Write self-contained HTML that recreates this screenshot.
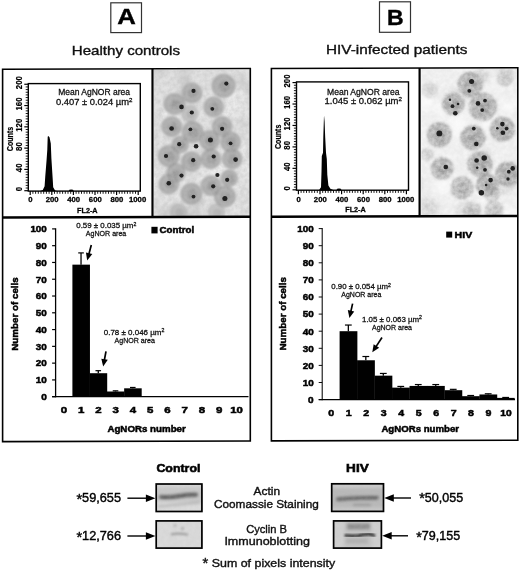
<!DOCTYPE html>
<html><head><meta charset="utf-8"><title>Figure</title>
<style>html,body{margin:0;padding:0;background:#fff;}svg{display:block;}text{font-family:"Liberation Sans",sans-serif;}</style></head>
<body>
<svg width="520" height="571" viewBox="0 0 520 571" font-family="Liberation Sans, sans-serif">
<defs>
<filter id="b1" x="-50%" y="-50%" width="200%" height="200%"><feGaussianBlur stdDeviation="1.5"/></filter>
<filter id="b2" x="-50%" y="-50%" width="200%" height="200%"><feGaussianBlur stdDeviation="0.7"/></filter>
<filter id="b3" x="-50%" y="-50%" width="200%" height="200%"><feGaussianBlur stdDeviation="1.2"/></filter>
<filter id="b5" x="-50%" y="-50%" width="200%" height="200%"><feGaussianBlur stdDeviation="1.5"/></filter>
<filter id="b4" x="-50%" y="-50%" width="200%" height="200%"><feGaussianBlur stdDeviation="2.5"/></filter>
<filter id="nz" x="0" y="0" width="100%" height="100%"><feTurbulence type="fractalNoise" baseFrequency="0.22" numOctaves="3" seed="4" result="t"/><feColorMatrix in="t" type="matrix" values="0 0 0 0 0.5  0 0 0 0 0.5  0 0 0 0 0.5  1.6 0 0 0 -0.45"/></filter>
<filter id="nz2" x="0" y="0" width="100%" height="100%"><feTurbulence type="fractalNoise" baseFrequency="0.22" numOctaves="3" seed="11" result="t"/><feColorMatrix in="t" type="matrix" values="0 0 0 0 1  0 0 0 0 1  0 0 0 0 1  1.6 0 0 0 -0.45"/></filter>
<clipPath id="cpA"><rect x="154" y="70.0" width="96" height="147"/></clipPath>
<clipPath id="cpB"><rect x="421.4" y="68.4" width="96" height="148.5"/></clipPath>
<clipPath id="cb1"><rect x="156" y="484" width="46.6" height="27.6"/></clipPath>
<clipPath id="cb2"><rect x="156" y="521" width="46.6" height="27"/></clipPath>
<clipPath id="cb3"><rect x="332" y="484" width="51.4" height="27.2"/></clipPath>
<clipPath id="cb4"><rect x="334" y="521" width="47.4" height="27"/></clipPath>
</defs>
<rect x="0" y="0" width="520" height="571" fill="#fff" />
<g opacity="0.999">
<rect x="110.8" y="2.8" width="30.7" height="29.8" fill="#fff" stroke="#333" stroke-width="1.2" />
<text x="126.5" y="24.4" font-size="22.6" font-weight="bold" text-anchor="middle" fill="#000" stroke="#000" stroke-width="0.4" textLength="18.6" lengthAdjust="spacingAndGlyphs" >A</text>
<rect x="379.5" y="1.8" width="31.0" height="30.5" fill="#fff" stroke="#333" stroke-width="1.2" />
<text x="395.3" y="24.7" font-size="21.4" font-weight="bold" text-anchor="middle" fill="#000" stroke="#000" stroke-width="0.4" textLength="16.6" lengthAdjust="spacingAndGlyphs" >B</text>
<text x="71.8" y="54.8" font-size="13.0" font-weight="normal" text-anchor="start" fill="#111" stroke="#111" stroke-width="0.36" textLength="108.2" lengthAdjust="spacingAndGlyphs" >Healthy controls</text>
<text x="326.0" y="53.8" font-size="13.0" font-weight="normal" text-anchor="start" fill="#111" stroke="#111" stroke-width="0.36" textLength="141.4" lengthAdjust="spacingAndGlyphs" >HIV-infected patients</text>
<g clip-path="url(#cpA)">
<rect x="140" y="62" width="115" height="160" fill="#e2e2e2" />
<g filter="url(#b4)">
<circle cx="210.4" cy="178.8" r="10.4" fill="#ffffff" opacity="0.45"/>
<circle cx="233.2" cy="183.9" r="6.0" fill="#ffffff" opacity="0.45"/>
<circle cx="239.6" cy="83.2" r="7.8" fill="#c4c4c4" opacity="0.45"/>
<circle cx="185.0" cy="81.5" r="6.0" fill="#c4c4c4" opacity="0.45"/>
<circle cx="187.9" cy="93.7" r="10.9" fill="#bdbdbd" opacity="0.45"/>
<circle cx="161.8" cy="187.2" r="5.1" fill="#bdbdbd" opacity="0.45"/>
<circle cx="158.3" cy="66.3" r="11.0" fill="#c4c4c4" opacity="0.45"/>
<circle cx="226.2" cy="211.9" r="5.3" fill="#c4c4c4" opacity="0.45"/>
<circle cx="175.4" cy="212.1" r="8.3" fill="#c4c4c4" opacity="0.45"/>
<circle cx="164.1" cy="213.2" r="5.6" fill="#bdbdbd" opacity="0.45"/>
<circle cx="176.4" cy="120.9" r="5.3" fill="#c4c4c4" opacity="0.45"/>
<circle cx="172.7" cy="116.4" r="10.5" fill="#ffffff" opacity="0.45"/>
<circle cx="207.6" cy="173.6" r="4.5" fill="#f4f4f4" opacity="0.45"/>
<circle cx="230.9" cy="139.1" r="6.5" fill="#bdbdbd" opacity="0.45"/>
<circle cx="194.6" cy="92.8" r="6.0" fill="#ffffff" opacity="0.45"/>
<circle cx="244.7" cy="120.4" r="7.2" fill="#bdbdbd" opacity="0.45"/>
<circle cx="183.4" cy="153.9" r="4.1" fill="#ffffff" opacity="0.45"/>
<circle cx="219.3" cy="160.8" r="11.6" fill="#ffffff" opacity="0.45"/>
<circle cx="224.4" cy="207.3" r="11.5" fill="#f4f4f4" opacity="0.45"/>
<circle cx="198.8" cy="201.7" r="6.0" fill="#bdbdbd" opacity="0.45"/>
<circle cx="156.3" cy="179.8" r="10.4" fill="#f4f4f4" opacity="0.45"/>
<circle cx="148.8" cy="209.8" r="4.7" fill="#f4f4f4" opacity="0.45"/>
<circle cx="198.9" cy="121.1" r="5.2" fill="#f4f4f4" opacity="0.45"/>
<circle cx="242.0" cy="148.9" r="6.5" fill="#f4f4f4" opacity="0.45"/>
<circle cx="177.1" cy="187.4" r="9.0" fill="#f4f4f4" opacity="0.45"/>
<circle cx="249.7" cy="90.6" r="4.4" fill="#bdbdbd" opacity="0.45"/>
<circle cx="148.3" cy="178.6" r="6.8" fill="#f4f4f4" opacity="0.45"/>
<circle cx="192.8" cy="130.1" r="4.4" fill="#ffffff" opacity="0.45"/>
<circle cx="229.2" cy="116.8" r="5.7" fill="#c4c4c4" opacity="0.45"/>
<circle cx="211.2" cy="185.8" r="4.9" fill="#bdbdbd" opacity="0.45"/>
<circle cx="184.2" cy="74.9" r="7.4" fill="#c4c4c4" opacity="0.45"/>
<circle cx="192.6" cy="217.9" r="10.8" fill="#bdbdbd" opacity="0.45"/>
<circle cx="245.8" cy="170.7" r="6.5" fill="#f4f4f4" opacity="0.45"/>
<circle cx="175.6" cy="127.4" r="5.2" fill="#bdbdbd" opacity="0.45"/>
<circle cx="231.3" cy="146.8" r="5.4" fill="#bdbdbd" opacity="0.45"/>
<circle cx="236.1" cy="93.4" r="7.9" fill="#f4f4f4" opacity="0.45"/>
<circle cx="151.6" cy="186.9" r="6.8" fill="#ffffff" opacity="0.45"/>
<circle cx="224.8" cy="121.2" r="9.6" fill="#f4f4f4" opacity="0.45"/>
<circle cx="232.7" cy="106.3" r="11.8" fill="#f4f4f4" opacity="0.45"/>
<circle cx="245.5" cy="117.7" r="5.4" fill="#ffffff" opacity="0.45"/>
</g>
<g filter="url(#b1)">
<circle cx="223.5" cy="85.8" r="11.6" fill="#a8a8a8" opacity="0.88"/>
<circle cx="192.1" cy="92.9" r="9.9" fill="#a8a8a8" opacity="0.88"/>
<circle cx="174.5" cy="104.1" r="10.6" fill="#a8a8a8" opacity="0.88"/>
<circle cx="213.7" cy="106.9" r="9.9" fill="#a8a8a8" opacity="0.88"/>
<circle cx="171.6" cy="126.5" r="9.9" fill="#a8a8a8" opacity="0.88"/>
<circle cx="192.7" cy="132.1" r="10.6" fill="#a8a8a8" opacity="0.88"/>
<circle cx="222.1" cy="126.5" r="9.9" fill="#a8a8a8" opacity="0.88"/>
<circle cx="209.5" cy="140.5" r="9.9" fill="#a8a8a8" opacity="0.88"/>
<circle cx="230.6" cy="141.9" r="9.9" fill="#a8a8a8" opacity="0.88"/>
<circle cx="180.1" cy="144.7" r="8.3" fill="#a8a8a8" opacity="0.88"/>
<circle cx="168.8" cy="156.0" r="10.6" fill="#a8a8a8" opacity="0.88"/>
<circle cx="191.3" cy="161.6" r="9.9" fill="#a8a8a8" opacity="0.88"/>
<circle cx="210.9" cy="158.8" r="9.9" fill="#a8a8a8" opacity="0.88"/>
<circle cx="232.0" cy="158.8" r="9.9" fill="#a8a8a8" opacity="0.88"/>
<circle cx="175.9" cy="172.8" r="9.3" fill="#a8a8a8" opacity="0.88"/>
<circle cx="168.8" cy="184.0" r="9.9" fill="#a8a8a8" opacity="0.88"/>
<circle cx="210.9" cy="185.4" r="9.9" fill="#a8a8a8" opacity="0.88"/>
<circle cx="191.3" cy="193.8" r="10.6" fill="#a8a8a8" opacity="0.88"/>
<circle cx="224.9" cy="196.6" r="10.6" fill="#a8a8a8" opacity="0.88"/>
<circle cx="229.2" cy="178.4" r="8.3" fill="#a8a8a8" opacity="0.88"/>
<circle cx="178.7" cy="212.1" r="8.3" fill="#a8a8a8" opacity="0.53"/>
<circle cx="216.5" cy="212.1" r="8.3" fill="#a8a8a8" opacity="0.53"/>
<circle cx="189.9" cy="113.9" r="8.3" fill="#a8a8a8" opacity="0.53"/>
</g>
<g filter="url(#b3)">
<circle cx="223.5" cy="85.8" r="10.7" fill="none" stroke="#7e7e7e" stroke-width="1.6" opacity="0.35"/>
<circle cx="224.3" cy="86.3" r="5.7" fill="#808080" opacity="0.42"/>
<circle cx="192.1" cy="92.9" r="9.1" fill="none" stroke="#7e7e7e" stroke-width="1.6" opacity="0.35"/>
<circle cx="192.9" cy="93.4" r="4.9" fill="#808080" opacity="0.42"/>
<circle cx="174.5" cy="104.1" r="9.7" fill="none" stroke="#7e7e7e" stroke-width="1.6" opacity="0.35"/>
<circle cx="175.3" cy="104.6" r="5.2" fill="#808080" opacity="0.42"/>
<circle cx="213.7" cy="106.9" r="9.1" fill="none" stroke="#7e7e7e" stroke-width="1.6" opacity="0.35"/>
<circle cx="214.5" cy="107.4" r="4.9" fill="#808080" opacity="0.42"/>
<circle cx="171.6" cy="126.5" r="9.1" fill="none" stroke="#7e7e7e" stroke-width="1.6" opacity="0.35"/>
<circle cx="172.4" cy="127.0" r="4.9" fill="#808080" opacity="0.42"/>
<circle cx="192.7" cy="132.1" r="9.7" fill="none" stroke="#7e7e7e" stroke-width="1.6" opacity="0.35"/>
<circle cx="193.5" cy="132.6" r="5.2" fill="#808080" opacity="0.42"/>
<circle cx="222.1" cy="126.5" r="9.1" fill="none" stroke="#7e7e7e" stroke-width="1.6" opacity="0.35"/>
<circle cx="222.9" cy="127.0" r="4.9" fill="#808080" opacity="0.42"/>
<circle cx="209.5" cy="140.5" r="9.1" fill="none" stroke="#7e7e7e" stroke-width="1.6" opacity="0.35"/>
<circle cx="210.3" cy="141.0" r="4.9" fill="#808080" opacity="0.42"/>
<circle cx="230.6" cy="141.9" r="9.1" fill="none" stroke="#7e7e7e" stroke-width="1.6" opacity="0.35"/>
<circle cx="231.4" cy="142.4" r="4.9" fill="#808080" opacity="0.42"/>
<circle cx="180.1" cy="144.7" r="7.6" fill="none" stroke="#7e7e7e" stroke-width="1.6" opacity="0.35"/>
<circle cx="180.9" cy="145.2" r="4.1" fill="#808080" opacity="0.42"/>
<circle cx="168.8" cy="156.0" r="9.7" fill="none" stroke="#7e7e7e" stroke-width="1.6" opacity="0.35"/>
<circle cx="169.6" cy="156.5" r="5.2" fill="#808080" opacity="0.42"/>
<circle cx="191.3" cy="161.6" r="9.1" fill="none" stroke="#7e7e7e" stroke-width="1.6" opacity="0.35"/>
<circle cx="192.1" cy="162.1" r="4.9" fill="#808080" opacity="0.42"/>
<circle cx="210.9" cy="158.8" r="9.1" fill="none" stroke="#7e7e7e" stroke-width="1.6" opacity="0.35"/>
<circle cx="211.7" cy="159.3" r="4.9" fill="#808080" opacity="0.42"/>
<circle cx="232.0" cy="158.8" r="9.1" fill="none" stroke="#7e7e7e" stroke-width="1.6" opacity="0.35"/>
<circle cx="232.8" cy="159.3" r="4.9" fill="#808080" opacity="0.42"/>
<circle cx="175.9" cy="172.8" r="8.5" fill="none" stroke="#7e7e7e" stroke-width="1.6" opacity="0.35"/>
<circle cx="176.7" cy="173.3" r="4.6" fill="#808080" opacity="0.42"/>
<circle cx="168.8" cy="184.0" r="9.1" fill="none" stroke="#7e7e7e" stroke-width="1.6" opacity="0.35"/>
<circle cx="169.6" cy="184.5" r="4.9" fill="#808080" opacity="0.42"/>
<circle cx="210.9" cy="185.4" r="9.1" fill="none" stroke="#7e7e7e" stroke-width="1.6" opacity="0.35"/>
<circle cx="211.7" cy="185.9" r="4.9" fill="#808080" opacity="0.42"/>
<circle cx="191.3" cy="193.8" r="9.7" fill="none" stroke="#7e7e7e" stroke-width="1.6" opacity="0.35"/>
<circle cx="192.1" cy="194.3" r="5.2" fill="#808080" opacity="0.42"/>
<circle cx="224.9" cy="196.6" r="9.7" fill="none" stroke="#7e7e7e" stroke-width="1.6" opacity="0.35"/>
<circle cx="225.7" cy="197.1" r="5.2" fill="#808080" opacity="0.42"/>
<circle cx="229.2" cy="178.4" r="7.6" fill="none" stroke="#7e7e7e" stroke-width="1.6" opacity="0.35"/>
<circle cx="230.0" cy="178.9" r="4.1" fill="#808080" opacity="0.42"/>
<circle cx="178.7" cy="212.1" r="7.6" fill="none" stroke="#7e7e7e" stroke-width="1.6" opacity="0.21"/>
<circle cx="179.5" cy="212.6" r="4.1" fill="#808080" opacity="0.25"/>
<circle cx="216.5" cy="212.1" r="7.6" fill="none" stroke="#7e7e7e" stroke-width="1.6" opacity="0.21"/>
<circle cx="217.3" cy="212.6" r="4.1" fill="#808080" opacity="0.25"/>
<circle cx="189.9" cy="113.9" r="7.6" fill="none" stroke="#7e7e7e" stroke-width="1.6" opacity="0.21"/>
<circle cx="190.7" cy="114.4" r="4.1" fill="#808080" opacity="0.25"/>
</g>
<rect x="140" y="62" width="115" height="160" filter="url(#nz)" opacity="0.5"/>
<g filter="url(#b2)">
<circle cx="226.3" cy="83.6" r="2.10" fill="#202020"/>
<circle cx="193.5" cy="90.9" r="2.10" fill="#202020"/>
<circle cx="181.5" cy="106.9" r="2.31" fill="#202020"/>
<circle cx="191.8" cy="112.5" r="2.10" fill="#202020"/>
<circle cx="212.3" cy="108.8" r="1.89" fill="#202020"/>
<circle cx="171.6" cy="128.5" r="2.31" fill="#202020"/>
<circle cx="190.4" cy="129.3" r="1.89" fill="#202020"/>
<circle cx="222.1" cy="128.8" r="2.10" fill="#202020"/>
<circle cx="210.4" cy="140.0" r="2.52" fill="#202020"/>
<circle cx="179.2" cy="144.2" r="2.10" fill="#202020"/>
<circle cx="196.1" cy="146.2" r="2.31" fill="#202020"/>
<circle cx="230.6" cy="143.3" r="1.89" fill="#202020"/>
<circle cx="166.0" cy="156.0" r="2.10" fill="#202020"/>
<circle cx="193.2" cy="160.2" r="2.10" fill="#202020"/>
<circle cx="213.7" cy="156.5" r="2.10" fill="#202020"/>
<circle cx="235.6" cy="159.6" r="2.31" fill="#202020"/>
<circle cx="181.5" cy="175.6" r="2.10" fill="#202020"/>
<circle cx="217.4" cy="175.0" r="2.10" fill="#202020"/>
<circle cx="227.2" cy="179.8" r="2.10" fill="#202020"/>
<circle cx="168.8" cy="183.2" r="2.31" fill="#202020"/>
<circle cx="213.2" cy="186.3" r="2.10" fill="#202020"/>
<circle cx="193.5" cy="196.6" r="1.89" fill="#202020"/>
<circle cx="224.9" cy="198.6" r="2.52" fill="#202020"/>
</g>
</g>
<g clip-path="url(#cpB)">
<rect x="405" y="62" width="115" height="160" fill="#ececec" />
<g filter="url(#b4)">
<circle cx="458.6" cy="122.7" r="5.1" fill="#ffffff" opacity="0.45"/>
<circle cx="445.5" cy="136.5" r="8.8" fill="#f4f4f4" opacity="0.45"/>
<circle cx="468.2" cy="159.7" r="4.3" fill="#bdbdbd" opacity="0.45"/>
<circle cx="427.8" cy="209.8" r="11.6" fill="#bdbdbd" opacity="0.45"/>
<circle cx="426.5" cy="102.2" r="4.9" fill="#ffffff" opacity="0.45"/>
<circle cx="491.3" cy="124.3" r="10.0" fill="#ffffff" opacity="0.45"/>
<circle cx="506.5" cy="97.2" r="5.8" fill="#bdbdbd" opacity="0.45"/>
<circle cx="503.4" cy="183.4" r="11.3" fill="#bdbdbd" opacity="0.45"/>
<circle cx="439.5" cy="189.0" r="5.6" fill="#ffffff" opacity="0.45"/>
<circle cx="502.3" cy="74.3" r="7.0" fill="#bdbdbd" opacity="0.45"/>
<circle cx="424.6" cy="102.0" r="9.9" fill="#ffffff" opacity="0.45"/>
<circle cx="511.2" cy="66.6" r="10.1" fill="#c4c4c4" opacity="0.45"/>
<circle cx="504.0" cy="96.9" r="4.1" fill="#ffffff" opacity="0.45"/>
<circle cx="424.0" cy="205.5" r="8.0" fill="#bdbdbd" opacity="0.45"/>
<circle cx="466.4" cy="96.1" r="4.6" fill="#c4c4c4" opacity="0.45"/>
<circle cx="477.1" cy="80.2" r="8.6" fill="#c4c4c4" opacity="0.45"/>
<circle cx="508.7" cy="175.4" r="4.3" fill="#f4f4f4" opacity="0.45"/>
<circle cx="468.3" cy="158.2" r="5.2" fill="#f4f4f4" opacity="0.45"/>
<circle cx="487.4" cy="153.4" r="4.3" fill="#bdbdbd" opacity="0.45"/>
<circle cx="509.8" cy="102.0" r="8.9" fill="#ffffff" opacity="0.45"/>
<circle cx="487.3" cy="194.5" r="8.2" fill="#ffffff" opacity="0.45"/>
<circle cx="501.1" cy="82.7" r="11.1" fill="#f4f4f4" opacity="0.45"/>
<circle cx="457.4" cy="127.1" r="11.9" fill="#ffffff" opacity="0.45"/>
<circle cx="449.8" cy="158.4" r="4.0" fill="#ffffff" opacity="0.45"/>
<circle cx="432.4" cy="133.5" r="6.6" fill="#ffffff" opacity="0.45"/>
<circle cx="442.3" cy="109.3" r="8.1" fill="#ffffff" opacity="0.45"/>
<circle cx="412.7" cy="184.7" r="10.5" fill="#bdbdbd" opacity="0.45"/>
<circle cx="446.3" cy="184.2" r="8.5" fill="#ffffff" opacity="0.45"/>
<circle cx="454.6" cy="101.1" r="11.7" fill="#bdbdbd" opacity="0.45"/>
<circle cx="463.5" cy="211.3" r="8.5" fill="#c4c4c4" opacity="0.45"/>
<circle cx="480.1" cy="92.0" r="10.7" fill="#f4f4f4" opacity="0.45"/>
<circle cx="413.1" cy="208.8" r="10.5" fill="#f4f4f4" opacity="0.45"/>
<circle cx="509.4" cy="215.9" r="8.9" fill="#ffffff" opacity="0.45"/>
<circle cx="415.1" cy="134.5" r="10.3" fill="#f4f4f4" opacity="0.45"/>
<circle cx="474.2" cy="212.9" r="6.8" fill="#c4c4c4" opacity="0.45"/>
<circle cx="460.5" cy="108.2" r="11.7" fill="#f4f4f4" opacity="0.45"/>
<circle cx="483.1" cy="76.0" r="7.6" fill="#bdbdbd" opacity="0.45"/>
<circle cx="471.8" cy="188.0" r="9.3" fill="#f4f4f4" opacity="0.45"/>
<circle cx="491.0" cy="199.8" r="8.0" fill="#ffffff" opacity="0.45"/>
<circle cx="506.9" cy="108.1" r="5.0" fill="#ffffff" opacity="0.45"/>
</g>
<g filter="url(#b1)">
<circle cx="470.2" cy="84.4" r="12.3" fill="#a8a8a8" opacity="0.88"/>
<circle cx="453.4" cy="104.0" r="10.8" fill="#a8a8a8" opacity="0.88"/>
<circle cx="482.8" cy="106.8" r="13.9" fill="#a8a8a8" opacity="0.88"/>
<circle cx="502.4" cy="129.2" r="12.3" fill="#a8a8a8" opacity="0.88"/>
<circle cx="439.4" cy="134.8" r="12.3" fill="#a8a8a8" opacity="0.88"/>
<circle cx="473.0" cy="137.6" r="12.3" fill="#a8a8a8" opacity="0.88"/>
<circle cx="480.0" cy="164.2" r="12.3" fill="#a8a8a8" opacity="0.88"/>
<circle cx="442.2" cy="168.4" r="10.8" fill="#a8a8a8" opacity="0.88"/>
<circle cx="508.0" cy="174.0" r="12.3" fill="#a8a8a8" opacity="0.88"/>
<circle cx="487.0" cy="185.1" r="10.8" fill="#a8a8a8" opacity="0.88"/>
<circle cx="462.1" cy="187.9" r="11.1" fill="#a8a8a8" opacity="0.75"/>
<circle cx="492.0" cy="194.1" r="7.7" fill="#a8a8a8" opacity="0.48"/>
<circle cx="505.2" cy="78.8" r="7.7" fill="#a8a8a8" opacity="0.44"/>
<circle cx="494.0" cy="210.3" r="9.2" fill="#a8a8a8" opacity="0.53"/>
<circle cx="429.6" cy="90.0" r="7.7" fill="#a8a8a8" opacity="0.31"/>
<circle cx="426.8" cy="154.4" r="6.2" fill="#a8a8a8" opacity="0.35"/>
<circle cx="471.9" cy="210.1" r="8.6" fill="#a8a8a8" opacity="0.44"/>
</g>
<g filter="url(#b3)">
<circle cx="470.2" cy="84.4" r="11.3" fill="none" stroke="#7e7e7e" stroke-width="1.6" opacity="0.35"/>
<circle cx="471.0" cy="84.9" r="6.5" fill="#808080" opacity="0.42"/>
<circle cx="453.4" cy="104.0" r="9.9" fill="none" stroke="#7e7e7e" stroke-width="1.6" opacity="0.35"/>
<circle cx="454.2" cy="104.5" r="5.7" fill="#808080" opacity="0.42"/>
<circle cx="482.8" cy="106.8" r="12.7" fill="none" stroke="#7e7e7e" stroke-width="1.6" opacity="0.35"/>
<circle cx="483.6" cy="107.3" r="7.3" fill="#808080" opacity="0.42"/>
<circle cx="502.4" cy="129.2" r="11.3" fill="none" stroke="#7e7e7e" stroke-width="1.6" opacity="0.35"/>
<circle cx="503.2" cy="129.7" r="6.5" fill="#808080" opacity="0.42"/>
<circle cx="439.4" cy="134.8" r="11.3" fill="none" stroke="#7e7e7e" stroke-width="1.6" opacity="0.35"/>
<circle cx="440.2" cy="135.3" r="6.5" fill="#808080" opacity="0.42"/>
<circle cx="473.0" cy="137.6" r="11.3" fill="none" stroke="#7e7e7e" stroke-width="1.6" opacity="0.35"/>
<circle cx="473.8" cy="138.1" r="6.5" fill="#808080" opacity="0.42"/>
<circle cx="480.0" cy="164.2" r="11.3" fill="none" stroke="#7e7e7e" stroke-width="1.6" opacity="0.35"/>
<circle cx="480.8" cy="164.7" r="6.5" fill="#808080" opacity="0.42"/>
<circle cx="442.2" cy="168.4" r="9.9" fill="none" stroke="#7e7e7e" stroke-width="1.6" opacity="0.35"/>
<circle cx="443.0" cy="168.9" r="5.7" fill="#808080" opacity="0.42"/>
<circle cx="508.0" cy="174.0" r="11.3" fill="none" stroke="#7e7e7e" stroke-width="1.6" opacity="0.35"/>
<circle cx="508.8" cy="174.5" r="6.5" fill="#808080" opacity="0.42"/>
<circle cx="487.0" cy="185.1" r="9.9" fill="none" stroke="#7e7e7e" stroke-width="1.6" opacity="0.35"/>
<circle cx="487.8" cy="185.6" r="5.7" fill="#808080" opacity="0.42"/>
<circle cx="462.1" cy="187.9" r="10.2" fill="none" stroke="#7e7e7e" stroke-width="1.6" opacity="0.30"/>
<circle cx="462.9" cy="188.4" r="5.8" fill="#808080" opacity="0.36"/>
<circle cx="492.0" cy="194.1" r="7.1" fill="none" stroke="#7e7e7e" stroke-width="1.6" opacity="0.19"/>
<circle cx="492.8" cy="194.6" r="4.1" fill="#808080" opacity="0.23"/>
<circle cx="505.2" cy="78.8" r="7.1" fill="none" stroke="#7e7e7e" stroke-width="1.6" opacity="0.17"/>
<circle cx="506.0" cy="79.3" r="4.1" fill="#808080" opacity="0.21"/>
<circle cx="494.0" cy="210.3" r="8.5" fill="none" stroke="#7e7e7e" stroke-width="1.6" opacity="0.21"/>
<circle cx="494.8" cy="210.8" r="4.9" fill="#808080" opacity="0.25"/>
<circle cx="429.6" cy="90.0" r="7.1" fill="none" stroke="#7e7e7e" stroke-width="1.6" opacity="0.12"/>
<circle cx="430.4" cy="90.5" r="4.1" fill="#808080" opacity="0.15"/>
<circle cx="426.8" cy="154.4" r="5.7" fill="none" stroke="#7e7e7e" stroke-width="1.6" opacity="0.14"/>
<circle cx="427.6" cy="154.9" r="3.2" fill="#808080" opacity="0.17"/>
<circle cx="471.9" cy="210.1" r="7.9" fill="none" stroke="#7e7e7e" stroke-width="1.6" opacity="0.17"/>
<circle cx="472.7" cy="210.6" r="4.5" fill="#808080" opacity="0.21"/>
</g>
<rect x="405" y="62" width="115" height="160" filter="url(#nz2)" opacity="0.5"/>
<g filter="url(#b2)">
<circle cx="471.6" cy="81.6" r="2.52" fill="#202020"/>
<circle cx="469.3" cy="90.8" r="1.89" fill="#202020"/>
<circle cx="478.0" cy="103.4" r="2.31" fill="#202020"/>
<circle cx="485.0" cy="100.6" r="1.89" fill="#202020"/>
<circle cx="482.2" cy="110.1" r="1.89" fill="#202020"/>
<circle cx="450.0" cy="99.8" r="1.26" fill="#202020"/>
<circle cx="452.5" cy="106.2" r="1.89" fill="#202020"/>
<circle cx="455.3" cy="113.2" r="2.31" fill="#202020"/>
<circle cx="458.1" cy="104.0" r="1.26" fill="#202020"/>
<circle cx="473.8" cy="128.6" r="1.89" fill="#202020"/>
<circle cx="476.3" cy="144.0" r="2.31" fill="#202020"/>
<circle cx="439.4" cy="133.4" r="2.94" fill="#202020"/>
<circle cx="502.4" cy="124.1" r="2.31" fill="#202020"/>
<circle cx="506.6" cy="128.6" r="1.89" fill="#202020"/>
<circle cx="502.9" cy="132.8" r="2.31" fill="#202020"/>
<circle cx="497.3" cy="128.3" r="1.26" fill="#202020"/>
<circle cx="476.6" cy="160.5" r="2.31" fill="#202020"/>
<circle cx="484.2" cy="158.0" r="2.73" fill="#202020"/>
<circle cx="485.0" cy="169.8" r="1.89" fill="#202020"/>
<circle cx="477.2" cy="167.8" r="1.26" fill="#202020"/>
<circle cx="445.8" cy="167.0" r="2.31" fill="#202020"/>
<circle cx="508.8" cy="171.7" r="1.89" fill="#202020"/>
<circle cx="512.7" cy="168.4" r="2.31" fill="#202020"/>
<circle cx="508.0" cy="179.0" r="1.68" fill="#202020"/>
<circle cx="490.6" cy="180.1" r="2.31" fill="#202020"/>
<circle cx="481.4" cy="192.7" r="2.73" fill="#202020"/>
<circle cx="486.1" cy="185.1" r="1.26" fill="#202020"/>
</g>
</g>
<g transform="translate(0,0.70) skewY(-0.155)">
<rect x="2.6" y="68.5" width="247.70000000000002" height="372.4" fill="none" stroke="#000" stroke-width="1.6"/>
<rect x="2.6" y="215.55" width="247.70000000000002" height="2.5" fill="#000" />
<rect x="151.4" y="68.5" width="2.2" height="148.3" fill="#000" />
<rect x="271.4" y="68.5" width="246.39999999999998" height="372.4" fill="none" stroke="#000" stroke-width="1.6"/>
<rect x="271.4" y="215.55" width="246.39999999999998" height="2.5" fill="#000" />
<rect x="418.5" y="68.5" width="2.2" height="148.3" fill="#000" />
</g>
<rect x="28.3" y="83.6" width="112.00000000000001" height="107.5" fill="none" stroke="#000" stroke-width="1.4" />
<line x1="24.30" y1="190.70" x2="28.30" y2="190.70" stroke="#000" stroke-width="1.2"/>
<line x1="25.70" y1="188.04" x2="28.30" y2="188.04" stroke="#000" stroke-width="0.9"/>
<line x1="25.70" y1="185.38" x2="28.30" y2="185.38" stroke="#000" stroke-width="0.9"/>
<line x1="25.70" y1="182.72" x2="28.30" y2="182.72" stroke="#000" stroke-width="0.9"/>
<line x1="25.70" y1="180.06" x2="28.30" y2="180.06" stroke="#000" stroke-width="0.9"/>
<line x1="25.70" y1="177.40" x2="28.30" y2="177.40" stroke="#000" stroke-width="0.9"/>
<line x1="25.70" y1="174.73" x2="28.30" y2="174.73" stroke="#000" stroke-width="0.9"/>
<line x1="25.70" y1="172.07" x2="28.30" y2="172.07" stroke="#000" stroke-width="0.9"/>
<line x1="24.30" y1="169.41" x2="28.30" y2="169.41" stroke="#000" stroke-width="1.2"/>
<line x1="25.70" y1="166.75" x2="28.30" y2="166.75" stroke="#000" stroke-width="0.9"/>
<line x1="25.70" y1="164.09" x2="28.30" y2="164.09" stroke="#000" stroke-width="0.9"/>
<line x1="25.70" y1="161.43" x2="28.30" y2="161.43" stroke="#000" stroke-width="0.9"/>
<line x1="25.70" y1="158.77" x2="28.30" y2="158.77" stroke="#000" stroke-width="0.9"/>
<line x1="25.70" y1="156.11" x2="28.30" y2="156.11" stroke="#000" stroke-width="0.9"/>
<line x1="25.70" y1="153.45" x2="28.30" y2="153.45" stroke="#000" stroke-width="0.9"/>
<line x1="25.70" y1="150.79" x2="28.30" y2="150.79" stroke="#000" stroke-width="0.9"/>
<line x1="24.30" y1="148.13" x2="28.30" y2="148.13" stroke="#000" stroke-width="1.2"/>
<line x1="25.70" y1="145.46" x2="28.30" y2="145.46" stroke="#000" stroke-width="0.9"/>
<line x1="25.70" y1="142.80" x2="28.30" y2="142.80" stroke="#000" stroke-width="0.9"/>
<line x1="25.70" y1="140.14" x2="28.30" y2="140.14" stroke="#000" stroke-width="0.9"/>
<line x1="25.70" y1="137.48" x2="28.30" y2="137.48" stroke="#000" stroke-width="0.9"/>
<line x1="25.70" y1="134.82" x2="28.30" y2="134.82" stroke="#000" stroke-width="0.9"/>
<line x1="25.70" y1="132.16" x2="28.30" y2="132.16" stroke="#000" stroke-width="0.9"/>
<line x1="25.70" y1="129.50" x2="28.30" y2="129.50" stroke="#000" stroke-width="0.9"/>
<line x1="24.30" y1="126.84" x2="28.30" y2="126.84" stroke="#000" stroke-width="1.2"/>
<line x1="25.70" y1="124.18" x2="28.30" y2="124.18" stroke="#000" stroke-width="0.9"/>
<line x1="25.70" y1="121.52" x2="28.30" y2="121.52" stroke="#000" stroke-width="0.9"/>
<line x1="25.70" y1="118.86" x2="28.30" y2="118.86" stroke="#000" stroke-width="0.9"/>
<line x1="25.70" y1="116.20" x2="28.30" y2="116.20" stroke="#000" stroke-width="0.9"/>
<line x1="25.70" y1="113.53" x2="28.30" y2="113.53" stroke="#000" stroke-width="0.9"/>
<line x1="25.70" y1="110.87" x2="28.30" y2="110.87" stroke="#000" stroke-width="0.9"/>
<line x1="25.70" y1="108.21" x2="28.30" y2="108.21" stroke="#000" stroke-width="0.9"/>
<line x1="24.30" y1="105.55" x2="28.30" y2="105.55" stroke="#000" stroke-width="1.2"/>
<line x1="25.70" y1="102.89" x2="28.30" y2="102.89" stroke="#000" stroke-width="0.9"/>
<line x1="25.70" y1="100.23" x2="28.30" y2="100.23" stroke="#000" stroke-width="0.9"/>
<line x1="25.70" y1="97.57" x2="28.30" y2="97.57" stroke="#000" stroke-width="0.9"/>
<line x1="25.70" y1="94.91" x2="28.30" y2="94.91" stroke="#000" stroke-width="0.9"/>
<line x1="25.70" y1="92.25" x2="28.30" y2="92.25" stroke="#000" stroke-width="0.9"/>
<line x1="25.70" y1="89.59" x2="28.30" y2="89.59" stroke="#000" stroke-width="0.9"/>
<line x1="25.70" y1="86.93" x2="28.30" y2="86.93" stroke="#000" stroke-width="0.9"/>
<line x1="24.30" y1="84.26" x2="28.30" y2="84.26" stroke="#000" stroke-width="1.2"/>
<text x="22.3" y="189.1" font-size="9.0" font-weight="bold" text-anchor="middle" fill="#000" stroke="#000" stroke-width="0.2" textLength="4.35" lengthAdjust="spacingAndGlyphs" transform="rotate(-90 22.3 189.1)">0</text>
<text x="22.3" y="167.8128712871287" font-size="9.0" font-weight="bold" text-anchor="middle" fill="#000" stroke="#000" stroke-width="0.2" textLength="8.7" lengthAdjust="spacingAndGlyphs" transform="rotate(-90 22.3 167.8128712871287)">40</text>
<text x="22.3" y="146.5257425742574" font-size="9.0" font-weight="bold" text-anchor="middle" fill="#000" stroke="#000" stroke-width="0.2" textLength="8.7" lengthAdjust="spacingAndGlyphs" transform="rotate(-90 22.3 146.5257425742574)">80</text>
<text x="22.3" y="125.23861386138613" font-size="9.0" font-weight="bold" text-anchor="middle" fill="#000" stroke="#000" stroke-width="0.2" textLength="13.049999999999999" lengthAdjust="spacingAndGlyphs" transform="rotate(-90 22.3 125.23861386138613)">120</text>
<text x="22.3" y="103.95148514851485" font-size="9.0" font-weight="bold" text-anchor="middle" fill="#000" stroke="#000" stroke-width="0.2" textLength="13.049999999999999" lengthAdjust="spacingAndGlyphs" transform="rotate(-90 22.3 103.95148514851485)">160</text>
<text x="22.3" y="82.66435643564355" font-size="9.0" font-weight="bold" text-anchor="middle" fill="#000" stroke="#000" stroke-width="0.2" textLength="13.049999999999999" lengthAdjust="spacingAndGlyphs" transform="rotate(-90 22.3 82.66435643564355)">200</text>
<line x1="30.20" y1="191.10" x2="30.20" y2="195.10" stroke="#000" stroke-width="1.2"/>
<line x1="32.90" y1="191.10" x2="32.90" y2="193.80" stroke="#000" stroke-width="0.9"/>
<line x1="35.60" y1="191.10" x2="35.60" y2="193.80" stroke="#000" stroke-width="0.9"/>
<line x1="38.30" y1="191.10" x2="38.30" y2="193.80" stroke="#000" stroke-width="0.9"/>
<line x1="41.00" y1="191.10" x2="41.00" y2="193.80" stroke="#000" stroke-width="0.9"/>
<line x1="43.70" y1="191.10" x2="43.70" y2="193.80" stroke="#000" stroke-width="0.9"/>
<line x1="46.40" y1="191.10" x2="46.40" y2="193.80" stroke="#000" stroke-width="0.9"/>
<line x1="49.10" y1="191.10" x2="49.10" y2="193.80" stroke="#000" stroke-width="0.9"/>
<line x1="51.80" y1="191.10" x2="51.80" y2="195.10" stroke="#000" stroke-width="1.2"/>
<line x1="54.50" y1="191.10" x2="54.50" y2="193.80" stroke="#000" stroke-width="0.9"/>
<line x1="57.20" y1="191.10" x2="57.20" y2="193.80" stroke="#000" stroke-width="0.9"/>
<line x1="59.90" y1="191.10" x2="59.90" y2="193.80" stroke="#000" stroke-width="0.9"/>
<line x1="62.60" y1="191.10" x2="62.60" y2="193.80" stroke="#000" stroke-width="0.9"/>
<line x1="65.30" y1="191.10" x2="65.30" y2="193.80" stroke="#000" stroke-width="0.9"/>
<line x1="68.00" y1="191.10" x2="68.00" y2="193.80" stroke="#000" stroke-width="0.9"/>
<line x1="70.70" y1="191.10" x2="70.70" y2="193.80" stroke="#000" stroke-width="0.9"/>
<line x1="73.40" y1="191.10" x2="73.40" y2="195.10" stroke="#000" stroke-width="1.2"/>
<line x1="76.10" y1="191.10" x2="76.10" y2="193.80" stroke="#000" stroke-width="0.9"/>
<line x1="78.80" y1="191.10" x2="78.80" y2="193.80" stroke="#000" stroke-width="0.9"/>
<line x1="81.50" y1="191.10" x2="81.50" y2="193.80" stroke="#000" stroke-width="0.9"/>
<line x1="84.20" y1="191.10" x2="84.20" y2="193.80" stroke="#000" stroke-width="0.9"/>
<line x1="86.90" y1="191.10" x2="86.90" y2="193.80" stroke="#000" stroke-width="0.9"/>
<line x1="89.60" y1="191.10" x2="89.60" y2="193.80" stroke="#000" stroke-width="0.9"/>
<line x1="92.30" y1="191.10" x2="92.30" y2="193.80" stroke="#000" stroke-width="0.9"/>
<line x1="95.00" y1="191.10" x2="95.00" y2="195.10" stroke="#000" stroke-width="1.2"/>
<line x1="97.70" y1="191.10" x2="97.70" y2="193.80" stroke="#000" stroke-width="0.9"/>
<line x1="100.40" y1="191.10" x2="100.40" y2="193.80" stroke="#000" stroke-width="0.9"/>
<line x1="103.10" y1="191.10" x2="103.10" y2="193.80" stroke="#000" stroke-width="0.9"/>
<line x1="105.80" y1="191.10" x2="105.80" y2="193.80" stroke="#000" stroke-width="0.9"/>
<line x1="108.50" y1="191.10" x2="108.50" y2="193.80" stroke="#000" stroke-width="0.9"/>
<line x1="111.20" y1="191.10" x2="111.20" y2="193.80" stroke="#000" stroke-width="0.9"/>
<line x1="113.90" y1="191.10" x2="113.90" y2="193.80" stroke="#000" stroke-width="0.9"/>
<line x1="116.60" y1="191.10" x2="116.60" y2="195.10" stroke="#000" stroke-width="1.2"/>
<line x1="119.30" y1="191.10" x2="119.30" y2="193.80" stroke="#000" stroke-width="0.9"/>
<line x1="122.00" y1="191.10" x2="122.00" y2="193.80" stroke="#000" stroke-width="0.9"/>
<line x1="124.70" y1="191.10" x2="124.70" y2="193.80" stroke="#000" stroke-width="0.9"/>
<line x1="127.40" y1="191.10" x2="127.40" y2="193.80" stroke="#000" stroke-width="0.9"/>
<line x1="130.10" y1="191.10" x2="130.10" y2="193.80" stroke="#000" stroke-width="0.9"/>
<line x1="132.80" y1="191.10" x2="132.80" y2="193.80" stroke="#000" stroke-width="0.9"/>
<line x1="135.50" y1="191.10" x2="135.50" y2="193.80" stroke="#000" stroke-width="0.9"/>
<line x1="138.20" y1="191.10" x2="138.20" y2="195.10" stroke="#000" stroke-width="1.2"/>
<text x="30.5" y="202.4" font-size="7.6" font-weight="bold" text-anchor="middle" fill="#000" stroke="#000" stroke-width="0.3" textLength="4.3" lengthAdjust="spacingAndGlyphs" >0</text>
<text x="52.1" y="202.4" font-size="7.6" font-weight="bold" text-anchor="middle" fill="#000" stroke="#000" stroke-width="0.3" textLength="12.9" lengthAdjust="spacingAndGlyphs" >200</text>
<text x="73.7" y="202.4" font-size="7.6" font-weight="bold" text-anchor="middle" fill="#000" stroke="#000" stroke-width="0.3" textLength="12.9" lengthAdjust="spacingAndGlyphs" >400</text>
<text x="95.3" y="202.4" font-size="7.6" font-weight="bold" text-anchor="middle" fill="#000" stroke="#000" stroke-width="0.3" textLength="12.9" lengthAdjust="spacingAndGlyphs" >600</text>
<text x="116.9" y="202.4" font-size="7.6" font-weight="bold" text-anchor="middle" fill="#000" stroke="#000" stroke-width="0.3" textLength="12.9" lengthAdjust="spacingAndGlyphs" >800</text>
<text x="137.6" y="202.4" font-size="7.6" font-weight="bold" text-anchor="middle" fill="#000" stroke="#000" stroke-width="0.3" textLength="17.2" lengthAdjust="spacingAndGlyphs" >1000</text>
<text x="87.3" y="212.5" font-size="7.6" font-weight="bold" text-anchor="middle" fill="#000" stroke="#000" stroke-width="0.3" textLength="20.6" lengthAdjust="spacingAndGlyphs" >FL2-A</text>
<text x="13.100000000000001" y="139" font-size="8.6" font-weight="bold" text-anchor="middle" fill="#000" stroke="#000" stroke-width="0.2" textLength="24.5" lengthAdjust="spacingAndGlyphs" transform="rotate(-90 13.100000000000001 139)">Counts</text>
<polygon fill="#000" points="40.30,191.10 40.30,191.10 42.80,190.00 44.60,186.14 45.20,177.32 46.50,161.07 47.30,149.78 47.70,136.72 48.30,136.00 49.50,137.32 50.80,143.55 51.40,158.59 52.60,177.32 53.20,187.24 55.10,190.49 57.00,191.10 57.00,191.10"/>
<ellipse cx="71.2" cy="190.5" rx="2.4" ry="1.0" fill="#000"/>
<text x="58.2" y="95.4" font-size="8.5" font-weight="normal" text-anchor="start" fill="#111" stroke="#111" stroke-width="0.28" textLength="71.8" lengthAdjust="spacingAndGlyphs" >Mean AgNOR area</text>
<text x="56" y="104.8" font-size="8.5" font-weight="normal" text-anchor="start" fill="#111" stroke="#111" stroke-width="0.28" textLength="76.5" lengthAdjust="spacingAndGlyphs" >0.407 ± 0.024 µm<tspan dy="-3.2" font-size="5.6">2</tspan></text>
<rect x="296.5" y="81.89999999999999" width="112.0" height="108.3" fill="none" stroke="#000" stroke-width="1.4" />
<line x1="292.50" y1="189.80" x2="296.50" y2="189.80" stroke="#000" stroke-width="1.2"/>
<line x1="293.90" y1="187.12" x2="296.50" y2="187.12" stroke="#000" stroke-width="0.9"/>
<line x1="293.90" y1="184.44" x2="296.50" y2="184.44" stroke="#000" stroke-width="0.9"/>
<line x1="293.90" y1="181.76" x2="296.50" y2="181.76" stroke="#000" stroke-width="0.9"/>
<line x1="293.90" y1="179.08" x2="296.50" y2="179.08" stroke="#000" stroke-width="0.9"/>
<line x1="293.90" y1="176.40" x2="296.50" y2="176.40" stroke="#000" stroke-width="0.9"/>
<line x1="293.90" y1="173.72" x2="296.50" y2="173.72" stroke="#000" stroke-width="0.9"/>
<line x1="293.90" y1="171.04" x2="296.50" y2="171.04" stroke="#000" stroke-width="0.9"/>
<line x1="292.50" y1="168.35" x2="296.50" y2="168.35" stroke="#000" stroke-width="1.2"/>
<line x1="293.90" y1="165.67" x2="296.50" y2="165.67" stroke="#000" stroke-width="0.9"/>
<line x1="293.90" y1="162.99" x2="296.50" y2="162.99" stroke="#000" stroke-width="0.9"/>
<line x1="293.90" y1="160.31" x2="296.50" y2="160.31" stroke="#000" stroke-width="0.9"/>
<line x1="293.90" y1="157.63" x2="296.50" y2="157.63" stroke="#000" stroke-width="0.9"/>
<line x1="293.90" y1="154.95" x2="296.50" y2="154.95" stroke="#000" stroke-width="0.9"/>
<line x1="293.90" y1="152.27" x2="296.50" y2="152.27" stroke="#000" stroke-width="0.9"/>
<line x1="293.90" y1="149.59" x2="296.50" y2="149.59" stroke="#000" stroke-width="0.9"/>
<line x1="292.50" y1="146.91" x2="296.50" y2="146.91" stroke="#000" stroke-width="1.2"/>
<line x1="293.90" y1="144.23" x2="296.50" y2="144.23" stroke="#000" stroke-width="0.9"/>
<line x1="293.90" y1="141.55" x2="296.50" y2="141.55" stroke="#000" stroke-width="0.9"/>
<line x1="293.90" y1="138.87" x2="296.50" y2="138.87" stroke="#000" stroke-width="0.9"/>
<line x1="293.90" y1="136.19" x2="296.50" y2="136.19" stroke="#000" stroke-width="0.9"/>
<line x1="293.90" y1="133.51" x2="296.50" y2="133.51" stroke="#000" stroke-width="0.9"/>
<line x1="293.90" y1="130.82" x2="296.50" y2="130.82" stroke="#000" stroke-width="0.9"/>
<line x1="293.90" y1="128.14" x2="296.50" y2="128.14" stroke="#000" stroke-width="0.9"/>
<line x1="292.50" y1="125.46" x2="296.50" y2="125.46" stroke="#000" stroke-width="1.2"/>
<line x1="293.90" y1="122.78" x2="296.50" y2="122.78" stroke="#000" stroke-width="0.9"/>
<line x1="293.90" y1="120.10" x2="296.50" y2="120.10" stroke="#000" stroke-width="0.9"/>
<line x1="293.90" y1="117.42" x2="296.50" y2="117.42" stroke="#000" stroke-width="0.9"/>
<line x1="293.90" y1="114.74" x2="296.50" y2="114.74" stroke="#000" stroke-width="0.9"/>
<line x1="293.90" y1="112.06" x2="296.50" y2="112.06" stroke="#000" stroke-width="0.9"/>
<line x1="293.90" y1="109.38" x2="296.50" y2="109.38" stroke="#000" stroke-width="0.9"/>
<line x1="293.90" y1="106.70" x2="296.50" y2="106.70" stroke="#000" stroke-width="0.9"/>
<line x1="292.50" y1="104.02" x2="296.50" y2="104.02" stroke="#000" stroke-width="1.2"/>
<line x1="293.90" y1="101.34" x2="296.50" y2="101.34" stroke="#000" stroke-width="0.9"/>
<line x1="293.90" y1="98.66" x2="296.50" y2="98.66" stroke="#000" stroke-width="0.9"/>
<line x1="293.90" y1="95.98" x2="296.50" y2="95.98" stroke="#000" stroke-width="0.9"/>
<line x1="293.90" y1="93.30" x2="296.50" y2="93.30" stroke="#000" stroke-width="0.9"/>
<line x1="293.90" y1="90.61" x2="296.50" y2="90.61" stroke="#000" stroke-width="0.9"/>
<line x1="293.90" y1="87.93" x2="296.50" y2="87.93" stroke="#000" stroke-width="0.9"/>
<line x1="293.90" y1="85.25" x2="296.50" y2="85.25" stroke="#000" stroke-width="0.9"/>
<line x1="292.50" y1="82.57" x2="296.50" y2="82.57" stroke="#000" stroke-width="1.2"/>
<text x="290.5" y="188.2" font-size="9.0" font-weight="bold" text-anchor="middle" fill="#000" stroke="#000" stroke-width="0.2" textLength="4.35" lengthAdjust="spacingAndGlyphs" transform="rotate(-90 290.5 188.2)">0</text>
<text x="290.5" y="166.75445544554455" font-size="9.0" font-weight="bold" text-anchor="middle" fill="#000" stroke="#000" stroke-width="0.2" textLength="8.7" lengthAdjust="spacingAndGlyphs" transform="rotate(-90 290.5 166.75445544554455)">40</text>
<text x="290.5" y="145.30891089108908" font-size="9.0" font-weight="bold" text-anchor="middle" fill="#000" stroke="#000" stroke-width="0.2" textLength="8.7" lengthAdjust="spacingAndGlyphs" transform="rotate(-90 290.5 145.30891089108908)">80</text>
<text x="290.5" y="123.86336633663365" font-size="9.0" font-weight="bold" text-anchor="middle" fill="#000" stroke="#000" stroke-width="0.2" textLength="13.049999999999999" lengthAdjust="spacingAndGlyphs" transform="rotate(-90 290.5 123.86336633663365)">120</text>
<text x="290.5" y="102.41782178217821" font-size="9.0" font-weight="bold" text-anchor="middle" fill="#000" stroke="#000" stroke-width="0.2" textLength="13.049999999999999" lengthAdjust="spacingAndGlyphs" transform="rotate(-90 290.5 102.41782178217821)">160</text>
<text x="290.5" y="80.97227722772276" font-size="9.0" font-weight="bold" text-anchor="middle" fill="#000" stroke="#000" stroke-width="0.2" textLength="13.049999999999999" lengthAdjust="spacingAndGlyphs" transform="rotate(-90 290.5 80.97227722772276)">200</text>
<line x1="298.40" y1="190.20" x2="298.40" y2="194.20" stroke="#000" stroke-width="1.2"/>
<line x1="301.10" y1="190.20" x2="301.10" y2="192.90" stroke="#000" stroke-width="0.9"/>
<line x1="303.80" y1="190.20" x2="303.80" y2="192.90" stroke="#000" stroke-width="0.9"/>
<line x1="306.50" y1="190.20" x2="306.50" y2="192.90" stroke="#000" stroke-width="0.9"/>
<line x1="309.20" y1="190.20" x2="309.20" y2="192.90" stroke="#000" stroke-width="0.9"/>
<line x1="311.90" y1="190.20" x2="311.90" y2="192.90" stroke="#000" stroke-width="0.9"/>
<line x1="314.60" y1="190.20" x2="314.60" y2="192.90" stroke="#000" stroke-width="0.9"/>
<line x1="317.30" y1="190.20" x2="317.30" y2="192.90" stroke="#000" stroke-width="0.9"/>
<line x1="320.00" y1="190.20" x2="320.00" y2="194.20" stroke="#000" stroke-width="1.2"/>
<line x1="322.70" y1="190.20" x2="322.70" y2="192.90" stroke="#000" stroke-width="0.9"/>
<line x1="325.40" y1="190.20" x2="325.40" y2="192.90" stroke="#000" stroke-width="0.9"/>
<line x1="328.10" y1="190.20" x2="328.10" y2="192.90" stroke="#000" stroke-width="0.9"/>
<line x1="330.80" y1="190.20" x2="330.80" y2="192.90" stroke="#000" stroke-width="0.9"/>
<line x1="333.50" y1="190.20" x2="333.50" y2="192.90" stroke="#000" stroke-width="0.9"/>
<line x1="336.20" y1="190.20" x2="336.20" y2="192.90" stroke="#000" stroke-width="0.9"/>
<line x1="338.90" y1="190.20" x2="338.90" y2="192.90" stroke="#000" stroke-width="0.9"/>
<line x1="341.60" y1="190.20" x2="341.60" y2="194.20" stroke="#000" stroke-width="1.2"/>
<line x1="344.30" y1="190.20" x2="344.30" y2="192.90" stroke="#000" stroke-width="0.9"/>
<line x1="347.00" y1="190.20" x2="347.00" y2="192.90" stroke="#000" stroke-width="0.9"/>
<line x1="349.70" y1="190.20" x2="349.70" y2="192.90" stroke="#000" stroke-width="0.9"/>
<line x1="352.40" y1="190.20" x2="352.40" y2="192.90" stroke="#000" stroke-width="0.9"/>
<line x1="355.10" y1="190.20" x2="355.10" y2="192.90" stroke="#000" stroke-width="0.9"/>
<line x1="357.80" y1="190.20" x2="357.80" y2="192.90" stroke="#000" stroke-width="0.9"/>
<line x1="360.50" y1="190.20" x2="360.50" y2="192.90" stroke="#000" stroke-width="0.9"/>
<line x1="363.20" y1="190.20" x2="363.20" y2="194.20" stroke="#000" stroke-width="1.2"/>
<line x1="365.90" y1="190.20" x2="365.90" y2="192.90" stroke="#000" stroke-width="0.9"/>
<line x1="368.60" y1="190.20" x2="368.60" y2="192.90" stroke="#000" stroke-width="0.9"/>
<line x1="371.30" y1="190.20" x2="371.30" y2="192.90" stroke="#000" stroke-width="0.9"/>
<line x1="374.00" y1="190.20" x2="374.00" y2="192.90" stroke="#000" stroke-width="0.9"/>
<line x1="376.70" y1="190.20" x2="376.70" y2="192.90" stroke="#000" stroke-width="0.9"/>
<line x1="379.40" y1="190.20" x2="379.40" y2="192.90" stroke="#000" stroke-width="0.9"/>
<line x1="382.10" y1="190.20" x2="382.10" y2="192.90" stroke="#000" stroke-width="0.9"/>
<line x1="384.80" y1="190.20" x2="384.80" y2="194.20" stroke="#000" stroke-width="1.2"/>
<line x1="387.50" y1="190.20" x2="387.50" y2="192.90" stroke="#000" stroke-width="0.9"/>
<line x1="390.20" y1="190.20" x2="390.20" y2="192.90" stroke="#000" stroke-width="0.9"/>
<line x1="392.90" y1="190.20" x2="392.90" y2="192.90" stroke="#000" stroke-width="0.9"/>
<line x1="395.60" y1="190.20" x2="395.60" y2="192.90" stroke="#000" stroke-width="0.9"/>
<line x1="398.30" y1="190.20" x2="398.30" y2="192.90" stroke="#000" stroke-width="0.9"/>
<line x1="401.00" y1="190.20" x2="401.00" y2="192.90" stroke="#000" stroke-width="0.9"/>
<line x1="403.70" y1="190.20" x2="403.70" y2="192.90" stroke="#000" stroke-width="0.9"/>
<line x1="406.40" y1="190.20" x2="406.40" y2="194.20" stroke="#000" stroke-width="1.2"/>
<text x="298.7" y="201.5" font-size="7.6" font-weight="bold" text-anchor="middle" fill="#000" stroke="#000" stroke-width="0.3" textLength="4.3" lengthAdjust="spacingAndGlyphs" >0</text>
<text x="320.3" y="201.5" font-size="7.6" font-weight="bold" text-anchor="middle" fill="#000" stroke="#000" stroke-width="0.3" textLength="12.9" lengthAdjust="spacingAndGlyphs" >200</text>
<text x="341.9" y="201.5" font-size="7.6" font-weight="bold" text-anchor="middle" fill="#000" stroke="#000" stroke-width="0.3" textLength="12.9" lengthAdjust="spacingAndGlyphs" >400</text>
<text x="363.5" y="201.5" font-size="7.6" font-weight="bold" text-anchor="middle" fill="#000" stroke="#000" stroke-width="0.3" textLength="12.9" lengthAdjust="spacingAndGlyphs" >600</text>
<text x="385.1" y="201.5" font-size="7.6" font-weight="bold" text-anchor="middle" fill="#000" stroke="#000" stroke-width="0.3" textLength="12.9" lengthAdjust="spacingAndGlyphs" >800</text>
<text x="405.8" y="201.5" font-size="7.6" font-weight="bold" text-anchor="middle" fill="#000" stroke="#000" stroke-width="0.3" textLength="17.2" lengthAdjust="spacingAndGlyphs" >1000</text>
<text x="355.5" y="211.6" font-size="7.6" font-weight="bold" text-anchor="middle" fill="#000" stroke="#000" stroke-width="0.3" textLength="20.6" lengthAdjust="spacingAndGlyphs" >FL2-A</text>
<text x="281.3" y="136.8" font-size="8.6" font-weight="bold" text-anchor="middle" fill="#000" stroke="#000" stroke-width="0.2" textLength="24.5" lengthAdjust="spacingAndGlyphs" transform="rotate(-90 281.3 136.8)">Counts</text>
<polygon fill="#000" points="319.40,190.20 319.40,189.46 321.00,187.24 321.50,171.67 321.80,156.11 323.00,152.78 323.30,137.22 323.95,116.84 324.10,116.10 324.60,121.58 325.20,137.22 326.00,152.78 326.80,159.08 327.30,174.64 328.40,185.53 330.40,188.72 332.80,189.83 332.80,190.20"/>
<ellipse cx="339.0" cy="189.6" rx="2.4" ry="1.0" fill="#000"/>
<text x="327" y="94.7" font-size="8.5" font-weight="normal" text-anchor="start" fill="#111" stroke="#111" stroke-width="0.28" textLength="72.5" lengthAdjust="spacingAndGlyphs" >Mean AgNOR area</text>
<text x="324.6" y="104.2" font-size="8.5" font-weight="normal" text-anchor="start" fill="#111" stroke="#111" stroke-width="0.28" textLength="77.4" lengthAdjust="spacingAndGlyphs" >1.045 ± 0.062 µm<tspan dy="-3.2" font-size="5.6">2</tspan></text>
<line x1="55.60" y1="228.30" x2="55.60" y2="397.30" stroke="#000" stroke-width="1.3"/>
<line x1="52.10" y1="396.70" x2="248.50" y2="396.70" stroke="#000" stroke-width="1.3"/>
<line x1="52.10" y1="228.90" x2="55.60" y2="228.90" stroke="#000" stroke-width="1.2"/>
<text x="46.8" y="232.2" font-size="9.2" font-weight="bold" text-anchor="end" fill="#000" stroke="#000" stroke-width="0.5" textLength="16.4" lengthAdjust="spacingAndGlyphs" >100</text>
<line x1="52.10" y1="245.68" x2="55.60" y2="245.68" stroke="#000" stroke-width="1.2"/>
<text x="46.8" y="249.0" font-size="9.2" font-weight="bold" text-anchor="end" fill="#000" stroke="#000" stroke-width="0.5" textLength="11.0" lengthAdjust="spacingAndGlyphs" >90</text>
<line x1="52.10" y1="262.46" x2="55.60" y2="262.46" stroke="#000" stroke-width="1.2"/>
<text x="46.8" y="265.8" font-size="9.2" font-weight="bold" text-anchor="end" fill="#000" stroke="#000" stroke-width="0.5" textLength="11.0" lengthAdjust="spacingAndGlyphs" >80</text>
<line x1="52.10" y1="279.24" x2="55.60" y2="279.24" stroke="#000" stroke-width="1.2"/>
<text x="46.8" y="282.5" font-size="9.2" font-weight="bold" text-anchor="end" fill="#000" stroke="#000" stroke-width="0.5" textLength="11.0" lengthAdjust="spacingAndGlyphs" >70</text>
<line x1="52.10" y1="296.02" x2="55.60" y2="296.02" stroke="#000" stroke-width="1.2"/>
<text x="46.8" y="299.3" font-size="9.2" font-weight="bold" text-anchor="end" fill="#000" stroke="#000" stroke-width="0.5" textLength="11.0" lengthAdjust="spacingAndGlyphs" >60</text>
<line x1="52.10" y1="312.80" x2="55.60" y2="312.80" stroke="#000" stroke-width="1.2"/>
<text x="46.8" y="316.1" font-size="9.2" font-weight="bold" text-anchor="end" fill="#000" stroke="#000" stroke-width="0.5" textLength="11.0" lengthAdjust="spacingAndGlyphs" >50</text>
<line x1="52.10" y1="329.58" x2="55.60" y2="329.58" stroke="#000" stroke-width="1.2"/>
<text x="46.8" y="332.9" font-size="9.2" font-weight="bold" text-anchor="end" fill="#000" stroke="#000" stroke-width="0.5" textLength="11.0" lengthAdjust="spacingAndGlyphs" >40</text>
<line x1="52.10" y1="346.36" x2="55.60" y2="346.36" stroke="#000" stroke-width="1.2"/>
<text x="46.8" y="349.7" font-size="9.2" font-weight="bold" text-anchor="end" fill="#000" stroke="#000" stroke-width="0.5" textLength="11.0" lengthAdjust="spacingAndGlyphs" >30</text>
<line x1="52.10" y1="363.14" x2="55.60" y2="363.14" stroke="#000" stroke-width="1.2"/>
<text x="46.8" y="366.4" font-size="9.2" font-weight="bold" text-anchor="end" fill="#000" stroke="#000" stroke-width="0.5" textLength="11.0" lengthAdjust="spacingAndGlyphs" >20</text>
<line x1="52.10" y1="379.92" x2="55.60" y2="379.92" stroke="#000" stroke-width="1.2"/>
<text x="46.8" y="383.2" font-size="9.2" font-weight="bold" text-anchor="end" fill="#000" stroke="#000" stroke-width="0.5" textLength="11.0" lengthAdjust="spacingAndGlyphs" >10</text>
<line x1="52.10" y1="396.70" x2="55.60" y2="396.70" stroke="#000" stroke-width="1.2"/>
<text x="46.8" y="400.0" font-size="9.2" font-weight="bold" text-anchor="end" fill="#000" stroke="#000" stroke-width="0.5" textLength="5.6" lengthAdjust="spacingAndGlyphs" >0</text>
<rect x="72.40" y="264.64" width="17.55" height="132.06" fill="#000" />
<line x1="81.03" y1="264.64" x2="81.03" y2="252.90" stroke="#000" stroke-width="1.3"/>
<line x1="78.23" y1="252.90" x2="83.83" y2="252.90" stroke="#000" stroke-width="1.2"/>
<rect x="89.65" y="373.21" width="17.55" height="23.49" fill="#000" />
<line x1="98.28" y1="373.21" x2="98.28" y2="370.69" stroke="#000" stroke-width="1.3"/>
<line x1="95.48" y1="370.69" x2="101.08" y2="370.69" stroke="#000" stroke-width="1.2"/>
<rect x="106.90" y="391.50" width="17.55" height="5.20" fill="#000" />
<line x1="115.53" y1="391.50" x2="115.53" y2="390.83" stroke="#000" stroke-width="1.3"/>
<line x1="112.73" y1="390.83" x2="118.33" y2="390.83" stroke="#000" stroke-width="1.2"/>
<rect x="124.15" y="388.31" width="17.55" height="8.39" fill="#000" />
<line x1="132.78" y1="388.31" x2="132.78" y2="387.47" stroke="#000" stroke-width="1.3"/>
<line x1="129.97" y1="387.47" x2="135.58" y2="387.47" stroke="#000" stroke-width="1.2"/>
<text x="64.0" y="413" font-size="9.2" font-weight="bold" text-anchor="middle" fill="#000" stroke="#000" stroke-width="0.5" textLength="6.4" lengthAdjust="spacingAndGlyphs" >0</text>
<text x="81.2" y="413" font-size="9.2" font-weight="bold" text-anchor="middle" fill="#000" stroke="#000" stroke-width="0.5" textLength="6.4" lengthAdjust="spacingAndGlyphs" >1</text>
<text x="98.5" y="413" font-size="9.2" font-weight="bold" text-anchor="middle" fill="#000" stroke="#000" stroke-width="0.5" textLength="6.4" lengthAdjust="spacingAndGlyphs" >2</text>
<text x="115.8" y="413" font-size="9.2" font-weight="bold" text-anchor="middle" fill="#000" stroke="#000" stroke-width="0.5" textLength="6.4" lengthAdjust="spacingAndGlyphs" >3</text>
<text x="133.0" y="413" font-size="9.2" font-weight="bold" text-anchor="middle" fill="#000" stroke="#000" stroke-width="0.5" textLength="6.4" lengthAdjust="spacingAndGlyphs" >4</text>
<text x="150.2" y="413" font-size="9.2" font-weight="bold" text-anchor="middle" fill="#000" stroke="#000" stroke-width="0.5" textLength="6.4" lengthAdjust="spacingAndGlyphs" >5</text>
<text x="167.5" y="413" font-size="9.2" font-weight="bold" text-anchor="middle" fill="#000" stroke="#000" stroke-width="0.5" textLength="6.4" lengthAdjust="spacingAndGlyphs" >6</text>
<text x="184.8" y="413" font-size="9.2" font-weight="bold" text-anchor="middle" fill="#000" stroke="#000" stroke-width="0.5" textLength="6.4" lengthAdjust="spacingAndGlyphs" >7</text>
<text x="202.0" y="413" font-size="9.2" font-weight="bold" text-anchor="middle" fill="#000" stroke="#000" stroke-width="0.5" textLength="6.4" lengthAdjust="spacingAndGlyphs" >8</text>
<text x="219.2" y="413" font-size="9.2" font-weight="bold" text-anchor="middle" fill="#000" stroke="#000" stroke-width="0.5" textLength="6.4" lengthAdjust="spacingAndGlyphs" >9</text>
<text x="236.5" y="413" font-size="9.2" font-weight="bold" text-anchor="middle" fill="#000" stroke="#000" stroke-width="0.5" textLength="12.6" lengthAdjust="spacingAndGlyphs" >10</text>
<text x="18.2" y="314" font-size="9.6" font-weight="bold" text-anchor="middle" fill="#000" stroke="#000" stroke-width="0.5" textLength="73.5" lengthAdjust="spacingAndGlyphs" transform="rotate(-90 18.2 314)">Number of cells</text>
<text x="146.6" y="432.2" font-size="9.4" font-weight="bold" text-anchor="middle" fill="#000" stroke="#000" stroke-width="0.5" textLength="78.4" lengthAdjust="spacingAndGlyphs" >AgNORs number</text>
<rect x="151.4" y="226.8" width="6.2" height="6.6" fill="#000" />
<text x="159.6" y="232.9" font-size="9.4" font-weight="bold" text-anchor="start" fill="#000" stroke="#000" stroke-width="0.5" textLength="34.6" lengthAdjust="spacingAndGlyphs" >Control</text>
<text x="76.3" y="228.2" font-size="7.6" font-weight="normal" text-anchor="start" fill="#111" stroke="#111" stroke-width="0.28" textLength="60" lengthAdjust="spacingAndGlyphs" >0.59 ± 0.035 µm<tspan dy="-2.7" font-size="5">2</tspan></text>
<text x="85.8" y="236.4" font-size="7.6" font-weight="normal" text-anchor="start" fill="#111" stroke="#111" stroke-width="0.28" textLength="40.5" lengthAdjust="spacingAndGlyphs" >AgNOR area</text>
<line x1="91.30" y1="245.00" x2="88.86" y2="254.22" stroke="#000" stroke-width="1.7"/>
<polygon points="87.20,260.50 85.93,252.41 92.31,254.09" fill="#000"/>
<text x="103.8" y="334.6" font-size="7.6" font-weight="normal" text-anchor="start" fill="#111" stroke="#111" stroke-width="0.28" textLength="60.6" lengthAdjust="spacingAndGlyphs" >0.78 ± 0.046 µm<tspan dy="-2.7" font-size="5">2</tspan></text>
<text x="114.5" y="342.8" font-size="7.6" font-weight="normal" text-anchor="start" fill="#111" stroke="#111" stroke-width="0.28" textLength="40.5" lengthAdjust="spacingAndGlyphs" >AgNOR area</text>
<line x1="106.00" y1="351.30" x2="104.37" y2="360.21" stroke="#000" stroke-width="1.7"/>
<polygon points="103.20,366.60 101.30,358.63 107.80,359.82" fill="#000"/>
<line x1="322.20" y1="228.00" x2="322.20" y2="400.20" stroke="#000" stroke-width="1.05"/>
<line x1="318.70" y1="399.60" x2="515.00" y2="399.60" stroke="#000" stroke-width="1.05"/>
<line x1="318.70" y1="228.60" x2="322.20" y2="228.60" stroke="#000" stroke-width="0.9500000000000001"/>
<text x="313.7" y="231.9" font-size="9.2" font-weight="bold" text-anchor="end" fill="#000" stroke="#000" stroke-width="0.5" textLength="16.4" lengthAdjust="spacingAndGlyphs" >100</text>
<line x1="318.70" y1="245.70" x2="322.20" y2="245.70" stroke="#000" stroke-width="0.9500000000000001"/>
<text x="313.7" y="249.0" font-size="9.2" font-weight="bold" text-anchor="end" fill="#000" stroke="#000" stroke-width="0.5" textLength="11.0" lengthAdjust="spacingAndGlyphs" >90</text>
<line x1="318.70" y1="262.80" x2="322.20" y2="262.80" stroke="#000" stroke-width="0.9500000000000001"/>
<text x="313.7" y="266.1" font-size="9.2" font-weight="bold" text-anchor="end" fill="#000" stroke="#000" stroke-width="0.5" textLength="11.0" lengthAdjust="spacingAndGlyphs" >80</text>
<line x1="318.70" y1="279.90" x2="322.20" y2="279.90" stroke="#000" stroke-width="0.9500000000000001"/>
<text x="313.7" y="283.2" font-size="9.2" font-weight="bold" text-anchor="end" fill="#000" stroke="#000" stroke-width="0.5" textLength="11.0" lengthAdjust="spacingAndGlyphs" >70</text>
<line x1="318.70" y1="297.00" x2="322.20" y2="297.00" stroke="#000" stroke-width="0.9500000000000001"/>
<text x="313.7" y="300.3" font-size="9.2" font-weight="bold" text-anchor="end" fill="#000" stroke="#000" stroke-width="0.5" textLength="11.0" lengthAdjust="spacingAndGlyphs" >60</text>
<line x1="318.70" y1="314.10" x2="322.20" y2="314.10" stroke="#000" stroke-width="0.9500000000000001"/>
<text x="313.7" y="317.4" font-size="9.2" font-weight="bold" text-anchor="end" fill="#000" stroke="#000" stroke-width="0.5" textLength="11.0" lengthAdjust="spacingAndGlyphs" >50</text>
<line x1="318.70" y1="331.20" x2="322.20" y2="331.20" stroke="#000" stroke-width="0.9500000000000001"/>
<text x="313.7" y="334.5" font-size="9.2" font-weight="bold" text-anchor="end" fill="#000" stroke="#000" stroke-width="0.5" textLength="11.0" lengthAdjust="spacingAndGlyphs" >40</text>
<line x1="318.70" y1="348.30" x2="322.20" y2="348.30" stroke="#000" stroke-width="0.9500000000000001"/>
<text x="313.7" y="351.6" font-size="9.2" font-weight="bold" text-anchor="end" fill="#000" stroke="#000" stroke-width="0.5" textLength="11.0" lengthAdjust="spacingAndGlyphs" >30</text>
<line x1="318.70" y1="365.40" x2="322.20" y2="365.40" stroke="#000" stroke-width="0.9500000000000001"/>
<text x="313.7" y="368.7" font-size="9.2" font-weight="bold" text-anchor="end" fill="#000" stroke="#000" stroke-width="0.5" textLength="11.0" lengthAdjust="spacingAndGlyphs" >20</text>
<line x1="318.70" y1="382.50" x2="322.20" y2="382.50" stroke="#000" stroke-width="0.9500000000000001"/>
<text x="313.7" y="385.8" font-size="9.2" font-weight="bold" text-anchor="end" fill="#000" stroke="#000" stroke-width="0.5" textLength="11.0" lengthAdjust="spacingAndGlyphs" >10</text>
<line x1="318.70" y1="399.60" x2="322.20" y2="399.60" stroke="#000" stroke-width="0.9500000000000001"/>
<text x="313.7" y="402.9" font-size="9.2" font-weight="bold" text-anchor="end" fill="#000" stroke="#000" stroke-width="0.5" textLength="5.6" lengthAdjust="spacingAndGlyphs" >0</text>
<rect x="339.60" y="331.20" width="17.78" height="68.40" fill="#000" />
<line x1="348.34" y1="331.20" x2="348.34" y2="325.04" stroke="#000" stroke-width="1.3"/>
<line x1="344.94" y1="325.04" x2="351.74" y2="325.04" stroke="#000" stroke-width="1.2"/>
<rect x="357.08" y="360.27" width="17.78" height="39.33" fill="#000" />
<line x1="365.82" y1="360.27" x2="365.82" y2="356.51" stroke="#000" stroke-width="1.3"/>
<line x1="362.42" y1="356.51" x2="369.22" y2="356.51" stroke="#000" stroke-width="1.2"/>
<rect x="374.56" y="375.66" width="17.78" height="23.94" fill="#000" />
<line x1="383.30" y1="375.66" x2="383.30" y2="373.44" stroke="#000" stroke-width="1.3"/>
<line x1="379.90" y1="373.44" x2="386.70" y2="373.44" stroke="#000" stroke-width="1.2"/>
<rect x="392.04" y="387.63" width="17.78" height="11.97" fill="#000" />
<line x1="400.78" y1="387.63" x2="400.78" y2="386.43" stroke="#000" stroke-width="1.3"/>
<line x1="397.38" y1="386.43" x2="404.18" y2="386.43" stroke="#000" stroke-width="1.2"/>
<rect x="409.52" y="385.92" width="17.78" height="13.68" fill="#000" />
<line x1="418.26" y1="385.92" x2="418.26" y2="384.55" stroke="#000" stroke-width="1.3"/>
<line x1="414.86" y1="384.55" x2="421.66" y2="384.55" stroke="#000" stroke-width="1.2"/>
<rect x="427.00" y="385.92" width="17.78" height="13.68" fill="#000" />
<line x1="435.74" y1="385.92" x2="435.74" y2="384.55" stroke="#000" stroke-width="1.3"/>
<line x1="432.34" y1="384.55" x2="439.14" y2="384.55" stroke="#000" stroke-width="1.2"/>
<rect x="444.48" y="390.20" width="17.78" height="9.41" fill="#000" />
<line x1="453.22" y1="390.20" x2="453.22" y2="389.34" stroke="#000" stroke-width="1.3"/>
<line x1="449.82" y1="389.34" x2="456.62" y2="389.34" stroke="#000" stroke-width="1.2"/>
<rect x="461.96" y="396.18" width="17.78" height="3.42" fill="#000" />
<line x1="470.70" y1="396.18" x2="470.70" y2="395.50" stroke="#000" stroke-width="1.3"/>
<line x1="467.30" y1="395.50" x2="474.10" y2="395.50" stroke="#000" stroke-width="1.2"/>
<rect x="479.44" y="394.47" width="17.78" height="5.13" fill="#000" />
<line x1="488.18" y1="394.47" x2="488.18" y2="393.79" stroke="#000" stroke-width="1.3"/>
<line x1="484.78" y1="393.79" x2="491.58" y2="393.79" stroke="#000" stroke-width="1.2"/>
<rect x="496.92" y="397.89" width="17.78" height="1.71" fill="#000" />
<line x1="505.66" y1="397.89" x2="505.66" y2="397.46" stroke="#000" stroke-width="1.3"/>
<line x1="502.26" y1="397.46" x2="509.06" y2="397.46" stroke="#000" stroke-width="1.2"/>
<text x="331.2" y="415.5" font-size="8.9" font-weight="bold" text-anchor="middle" fill="#000" stroke="#000" stroke-width="0.5" textLength="5.9" lengthAdjust="spacingAndGlyphs" >0</text>
<text x="348.7" y="415.5" font-size="8.9" font-weight="bold" text-anchor="middle" fill="#000" stroke="#000" stroke-width="0.5" textLength="5.9" lengthAdjust="spacingAndGlyphs" >1</text>
<text x="366.2" y="415.5" font-size="8.9" font-weight="bold" text-anchor="middle" fill="#000" stroke="#000" stroke-width="0.5" textLength="5.9" lengthAdjust="spacingAndGlyphs" >2</text>
<text x="383.6" y="415.5" font-size="8.9" font-weight="bold" text-anchor="middle" fill="#000" stroke="#000" stroke-width="0.5" textLength="5.9" lengthAdjust="spacingAndGlyphs" >3</text>
<text x="401.1" y="415.5" font-size="8.9" font-weight="bold" text-anchor="middle" fill="#000" stroke="#000" stroke-width="0.5" textLength="5.9" lengthAdjust="spacingAndGlyphs" >4</text>
<text x="418.6" y="415.5" font-size="8.9" font-weight="bold" text-anchor="middle" fill="#000" stroke="#000" stroke-width="0.5" textLength="5.9" lengthAdjust="spacingAndGlyphs" >5</text>
<text x="436.1" y="415.5" font-size="8.9" font-weight="bold" text-anchor="middle" fill="#000" stroke="#000" stroke-width="0.5" textLength="5.9" lengthAdjust="spacingAndGlyphs" >6</text>
<text x="453.6" y="415.5" font-size="8.9" font-weight="bold" text-anchor="middle" fill="#000" stroke="#000" stroke-width="0.5" textLength="5.9" lengthAdjust="spacingAndGlyphs" >7</text>
<text x="471.0" y="415.5" font-size="8.9" font-weight="bold" text-anchor="middle" fill="#000" stroke="#000" stroke-width="0.5" textLength="5.9" lengthAdjust="spacingAndGlyphs" >8</text>
<text x="488.5" y="415.5" font-size="8.9" font-weight="bold" text-anchor="middle" fill="#000" stroke="#000" stroke-width="0.5" textLength="5.9" lengthAdjust="spacingAndGlyphs" >9</text>
<text x="506.0" y="415.5" font-size="8.9" font-weight="bold" text-anchor="middle" fill="#000" stroke="#000" stroke-width="0.5" textLength="11.4" lengthAdjust="spacingAndGlyphs" >10</text>
<text x="286.0" y="313.8" font-size="9.6" font-weight="bold" text-anchor="middle" fill="#000" stroke="#000" stroke-width="0.5" textLength="73.4" lengthAdjust="spacingAndGlyphs" transform="rotate(-90 286.0 313.8)">Number of cells</text>
<text x="420.2" y="432.4" font-size="9.4" font-weight="bold" text-anchor="middle" fill="#000" stroke="#000" stroke-width="0.5" textLength="77.6" lengthAdjust="spacingAndGlyphs" >AgNORs number</text>
<rect x="446.2" y="231.6" width="6.0" height="6.0" fill="#000" />
<text x="454.6" y="237.7" font-size="9.4" font-weight="bold" text-anchor="start" fill="#000" stroke="#000" stroke-width="0.5" textLength="17.6" lengthAdjust="spacingAndGlyphs" >HIV</text>
<text x="331.3" y="289.3" font-size="7.6" font-weight="normal" text-anchor="start" fill="#111" stroke="#111" stroke-width="0.28" textLength="59.6" lengthAdjust="spacingAndGlyphs" >0.90 ± 0.054 µm<tspan dy="-2.7" font-size="5">2</tspan></text>
<text x="341.3" y="297.2" font-size="7.6" font-weight="normal" text-anchor="start" fill="#111" stroke="#111" stroke-width="0.28" textLength="40" lengthAdjust="spacingAndGlyphs" >AgNOR area</text>
<line x1="352.60" y1="303.60" x2="350.81" y2="311.65" stroke="#000" stroke-width="1.7"/>
<polygon points="349.40,318.00 347.81,309.96 354.25,311.39" fill="#000"/>
<text x="362" y="322.1" font-size="7.6" font-weight="normal" text-anchor="start" fill="#111" stroke="#111" stroke-width="0.28" textLength="60" lengthAdjust="spacingAndGlyphs" >1.05 ± 0.063 µm<tspan dy="-2.7" font-size="5">2</tspan></text>
<text x="372" y="330.2" font-size="7.6" font-weight="normal" text-anchor="start" fill="#111" stroke="#111" stroke-width="0.28" textLength="40" lengthAdjust="spacingAndGlyphs" >AgNOR area</text>
<line x1="382.00" y1="337.50" x2="375.86" y2="346.86" stroke="#000" stroke-width="1.7"/>
<polygon points="372.30,352.30 373.65,344.22 379.17,347.84" fill="#000"/>
<text x="178.4" y="472.4" font-size="11.8" font-weight="bold" text-anchor="middle" fill="#000" stroke="#000" stroke-width="0.6" textLength="44.0" lengthAdjust="spacingAndGlyphs" >Control</text>
<text x="357.4" y="471.6" font-size="11.8" font-weight="bold" text-anchor="middle" fill="#000" stroke="#000" stroke-width="0.6" textLength="22.6" lengthAdjust="spacingAndGlyphs" >HIV</text>
<g clip-path="url(#cb1)">
<rect x="155" y="483" width="48" height="30" fill="#c9c9c9" />
<g filter="url(#b5)"><rect x="155" y="502" width="48" height="12" fill="#dcdcdc"/><rect x="155" y="482" width="48" height="5" fill="#d8d8d8"/><path d="M161 497.0 Q170 497.6 178 496.2 T196 494.8" stroke="#565656" stroke-width="4.0" fill="none" stroke-linecap="round"/><path d="M158 506.5 L200 502.5" stroke="#b0b0b0" stroke-width="2.2" fill="none"/></g>
<rect x="155" y="483" width="48" height="30" filter="url(#nz)" opacity="0.18"/>
</g>
<rect x="156.2" y="484.0" width="45.7" height="27.5" fill="none" stroke="#000" stroke-width="1.7" />
<g clip-path="url(#cb2)">
<rect x="155" y="520" width="48" height="29" fill="#dadada" />
<g filter="url(#b3)"><path d="M171 534.4 Q179 532.8 188 534.8" stroke="#a0a0a0" stroke-width="2.2" fill="none"/><rect x="173.5" y="524" width="3" height="3" fill="#bcbcbc"/><rect x="181" y="527" width="3" height="3" fill="#b4b4b4"/></g>
<rect x="155" y="520" width="48" height="30" filter="url(#nz)" opacity="0.15"/>
</g>
<rect x="156.2" y="520.9" width="45.7" height="27.2" fill="none" stroke="#000" stroke-width="1.7" />
<g clip-path="url(#cb3)">
<rect x="331" y="483" width="53" height="29" fill="#b9b9b9" />
<g filter="url(#b5)"><rect x="331" y="483" width="53" height="5" fill="#cccccc"/><rect x="331" y="507.5" width="53" height="5" fill="#c8c8c8"/><path d="M338 499.2 Q348 498.2 358 498 T377 497.8" stroke="#5e5e5e" stroke-width="3.6" fill="none" stroke-linecap="round"/><rect x="353" y="504.2" width="18" height="1.8" fill="#8e8e8e"/></g>
<rect x="331" y="483" width="53" height="30" filter="url(#nz)" opacity="0.18"/>
</g>
<rect x="331.7" y="483.8" width="51.8" height="27.6" fill="none" stroke="#000" stroke-width="1.7" />
<g clip-path="url(#cb4)">
<rect x="333" y="520" width="49" height="29" fill="#d0d0d0" />
<g filter="url(#b5)"><rect x="344" y="521" width="28" height="27" fill="#bcbcbc" opacity="0.6"/><rect x="347" y="523.5" width="23" height="6" fill="#8c8c8c"/><rect x="346" y="538.5" width="22" height="5" fill="#b0b0b0"/></g>
<g filter="url(#b3)"><path d="M346 535.6 Q355 536.6 362 535 T374 535.4" stroke="#303030" stroke-width="3.0" fill="none" stroke-linecap="round"/></g>
<rect x="333" y="520" width="49" height="30" filter="url(#nz)" opacity="0.2"/>
</g>
<rect x="333.6" y="520.9" width="47.8" height="27.2" fill="none" stroke="#000" stroke-width="1.7" />
<text x="76.4" y="502.0" font-size="12.2" font-weight="normal" text-anchor="start" fill="#000" stroke="#000" stroke-width="0.4" textLength="44.6" lengthAdjust="spacingAndGlyphs" ><tspan dy="1.8" font-size="14">*</tspan><tspan dy="-1.8">59,655</tspan></text>
<text x="76.4" y="540.2" font-size="12.2" font-weight="normal" text-anchor="start" fill="#000" stroke="#000" stroke-width="0.4" textLength="44.6" lengthAdjust="spacingAndGlyphs" ><tspan dy="1.8" font-size="14">*</tspan><tspan dy="-1.8">12,766</tspan></text>
<line x1="127.40" y1="498.20" x2="146.90" y2="498.20" stroke="#000" stroke-width="1.4"/>
<polygon points="155.40,498.20 145.90,501.90 145.90,494.50" fill="#000"/>
<line x1="127.40" y1="536.00" x2="146.90" y2="536.00" stroke="#000" stroke-width="1.4"/>
<polygon points="155.40,536.00 145.90,539.70 145.90,532.30" fill="#000"/>
<text x="419.2" y="501.6" font-size="12.2" font-weight="normal" text-anchor="start" fill="#000" stroke="#000" stroke-width="0.4" textLength="44" lengthAdjust="spacingAndGlyphs" ><tspan dy="1.8" font-size="14">*</tspan><tspan dy="-1.8">50,055</tspan></text>
<text x="416.2" y="540.4" font-size="12.2" font-weight="normal" text-anchor="start" fill="#000" stroke="#000" stroke-width="0.4" textLength="44" lengthAdjust="spacingAndGlyphs" ><tspan dy="1.8" font-size="14">*</tspan><tspan dy="-1.8">79,155</tspan></text>
<line x1="411.00" y1="498.00" x2="392.80" y2="498.00" stroke="#000" stroke-width="1.4"/>
<polygon points="384.30,498.00 393.80,494.30 393.80,501.70" fill="#000"/>
<line x1="408.00" y1="535.80" x2="390.70" y2="535.80" stroke="#000" stroke-width="1.4"/>
<polygon points="382.20,535.80 391.70,532.10 391.70,539.50" fill="#000"/>
<text x="266.8" y="495" font-size="11.8" font-weight="normal" text-anchor="middle" fill="#111" stroke="#111" stroke-width="0.4" textLength="26.4" lengthAdjust="spacingAndGlyphs" >Actin</text>
<text x="266.4" y="507.6" font-size="11.8" font-weight="normal" text-anchor="middle" fill="#111" stroke="#111" stroke-width="0.4" textLength="104.8" lengthAdjust="spacingAndGlyphs" >Coomassie Staining</text>
<text x="266.6" y="532.6" font-size="11.8" font-weight="normal" text-anchor="middle" fill="#111" stroke="#111" stroke-width="0.4" textLength="40.8" lengthAdjust="spacingAndGlyphs" >Cyclin B</text>
<text x="267.2" y="544.8" font-size="11.8" font-weight="normal" text-anchor="middle" fill="#111" stroke="#111" stroke-width="0.4" textLength="85.6" lengthAdjust="spacingAndGlyphs" >Immunoblotting</text>
<text x="202.6" y="566.5" font-size="11.8" font-weight="normal" text-anchor="start" fill="#111" stroke="#111" stroke-width="0.4" textLength="132.6" lengthAdjust="spacingAndGlyphs" ><tspan dy="1.8" font-size="14">*</tspan><tspan dy="-1.8"> Sum of pixels intensity</tspan></text>
</g>
</svg>
</body></html>
